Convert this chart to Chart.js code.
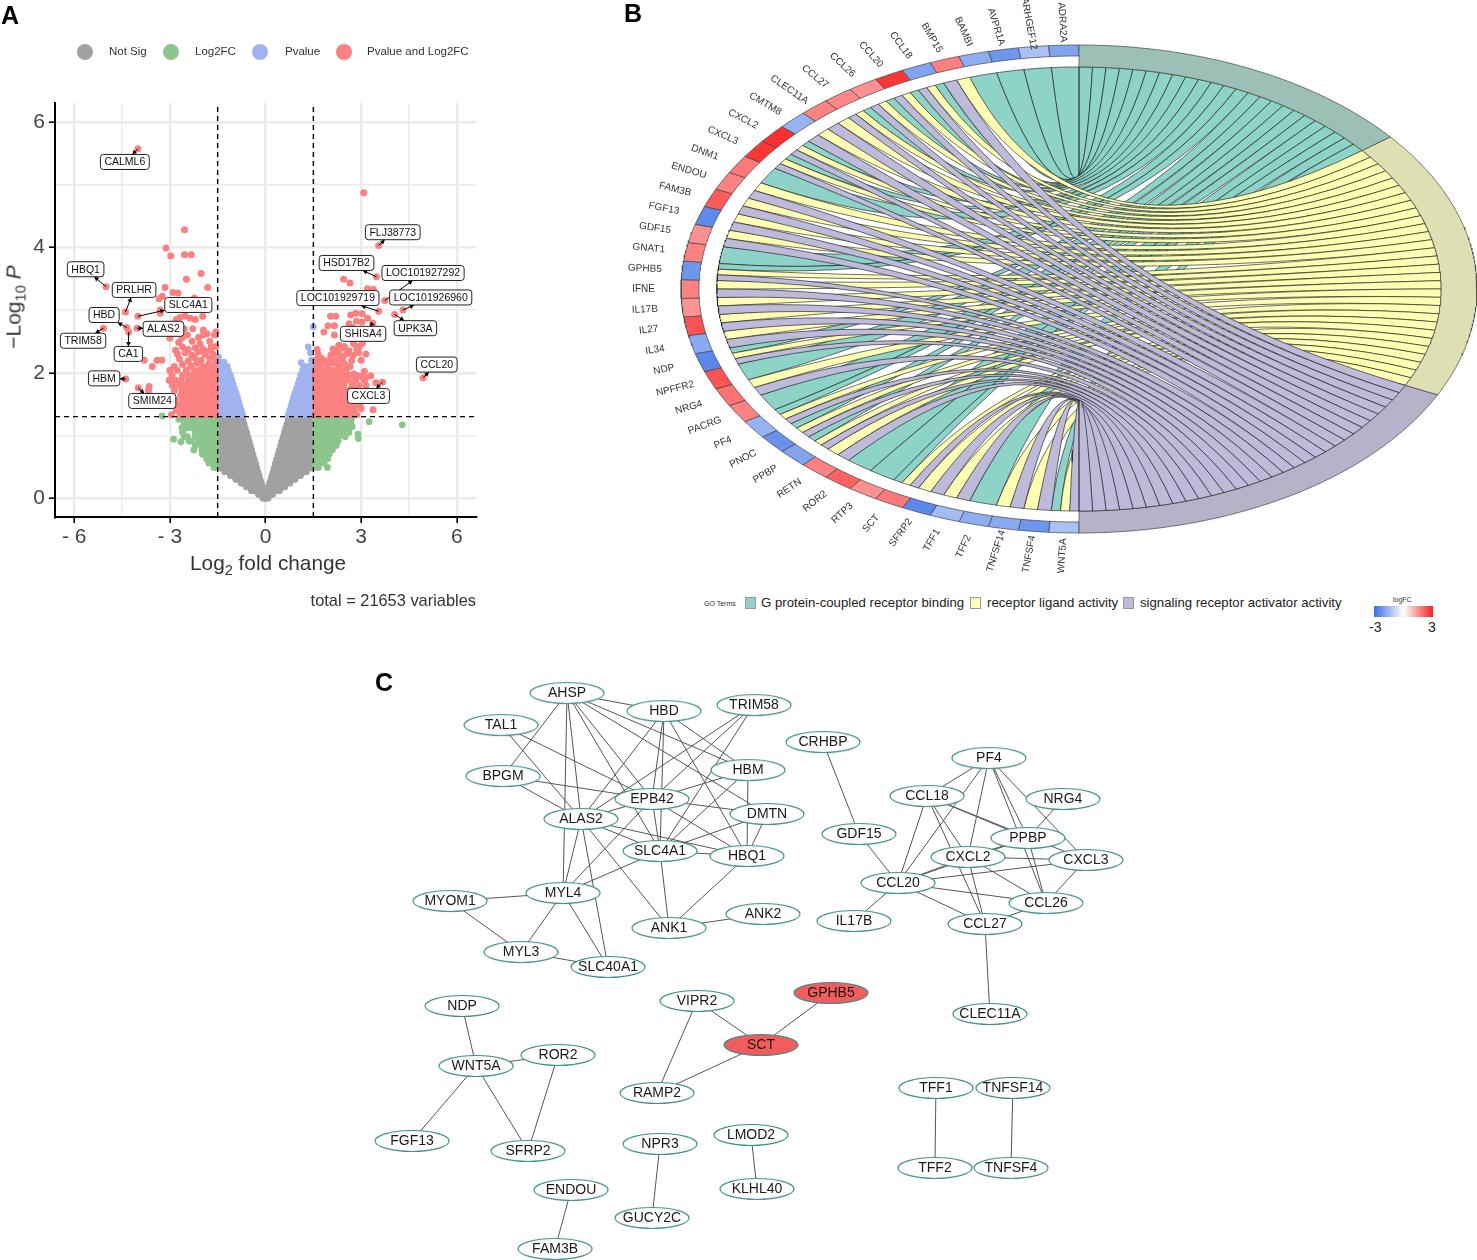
<!DOCTYPE html>
<html>
<head>
<meta charset="utf-8">
<script src="https://cdn.jsdelivr.net/npm/chart.js@4"></script>
<style>
  html, body { margin: 0; padding: 0; background: #fff; }
  body { position: relative; width: 1477px; height: 1260px; overflow: hidden; font-family: "Liberation Sans", Arial, sans-serif; color: #222; }
  canvas { position: absolute; }
  .t { position: absolute; white-space: nowrap; line-height: 1; }
  .panel { font-weight: bold; font-size: 25px; color: #000; }
  .dot { position: absolute; width: 16px; height: 16px; border-radius: 50%; }
  .key { position: absolute; width: 11px; height: 12px; border: 1px solid #999; box-sizing: border-box; }
  #ytitle sub, #xtitle sub { font-size: 70%; line-height: 0; }
</style>
</head>
<body>
<canvas id="volcano" width="490" height="620" style="left:0;top:0"></canvas>
<canvas id="chord" width="857" height="590" style="left:620px;top:0"></canvas>
<canvas id="network" width="770" height="590" style="left:360px;top:670px"></canvas>

<div class="t panel" style="left:1px;top:3px">A</div>
<div class="t panel" style="left:624px;top:1px">B</div>
<div class="t panel" style="left:375px;top:670px">C</div>

<div id="volcanoLegend"></div>
<div class="t" id="xtitle" style="left:190px;top:553px;font-size:20.8px;color:#333">Log<sub>2</sub> fold change</div>
<div class="t" id="ytitle" style="left:13px;top:307px;font-size:21px;color:#333;transform:translate(-50%,-50%) rotate(-90deg);transform-origin:center">&#8722;Log<sub>10</sub> <i>P</i></div>
<div class="t" style="right:1001px;top:592px;font-size:16.4px;color:#333">total = 21653 variables</div>

<div class="t" style="left:704px;top:600px;font-size:7px;color:#333">GO Terms</div>
<div id="chordLegend"></div>
<div class="t" style="left:1393px;top:596px;font-size:7px;color:#333">logFC</div>
<div style="position:absolute;left:1374px;top:606px;width:59px;height:11px;background:linear-gradient(to right,#3a70e6,#ffffff,#fa2020)"></div>
<div class="t" style="left:1369px;top:620px;font-size:14px">-3</div>
<div class="t" style="left:1428px;top:620px;font-size:14px">3</div>

<script>
// ---------- A: volcano ----------
const volcanoLegendNames = ["Not Sig", "Log2FC", "Pvalue", "Pvalue and Log2FC"];
const xTicks = [-6, -4.5, -3, -1.5, 0, 1.5, 3, 4.5, 6];
const xMajor = [-6, -3, 0, 3, 6];
const yTicks = [0, 1, 2, 3, 4, 5, 6];
const yMajor = [0, 2, 4, 6];
const pCut = 1.3;
const fcCut = 1.5;

// rows of [y, |x|], used for both arms of the V
const notSigRows = [
  [0.00, [0, 0.08]],
  [0.06, [0, 0.12, 0.22]],
  [0.12, [0.07, 0.2, 0.34, 0.44]],
  [0.18, [0.1, 0.24, 0.38, 0.5, 0.6]],
  [0.24, [0.13, 0.27, 0.41, 0.55, 0.68, 0.76]],
  [0.30, [0.17, 0.31, 0.45, 0.59, 0.73, 0.87, 0.93]],
  [0.36, [0.2, 0.34, 0.48, 0.62, 0.76, 0.9, 1.04, 1.1]],
  [0.42, [0.24, 0.38, 0.52, 0.66, 0.8, 0.94, 1.08, 1.2, 1.28]],
  [0.48, [0.27, 0.41, 0.55, 0.69, 0.83, 0.97, 1.11, 1.25, 1.41]],
  [0.55, [0.31, 0.45, 0.59, 0.73, 0.87, 1.01, 1.15, 1.29, 1.41]],
  [0.62, [0.35, 0.49, 0.63, 0.77, 0.91, 1.05, 1.19, 1.33, 1.41]],
  [0.69, [0.39, 0.53, 0.67, 0.81, 0.95, 1.09, 1.23, 1.37, 1.41]],
  [0.76, [0.43, 0.57, 0.71, 0.85, 0.99, 1.13, 1.27, 1.41]],
  [0.83, [0.47, 0.61, 0.75, 0.89, 1.03, 1.17, 1.31, 1.41]],
  [0.90, [0.51, 0.65, 0.79, 0.93, 1.07, 1.21, 1.35, 1.41]],
  [0.97, [0.55, 0.69, 0.83, 0.97, 1.11, 1.25, 1.39]],
  [1.04, [0.59, 0.73, 0.87, 1.01, 1.15, 1.29, 1.41]],
  [1.11, [0.63, 0.77, 0.91, 1.05, 1.19, 1.33, 1.41]],
  [1.18, [0.67, 0.81, 0.95, 1.09, 1.23, 1.37, 1.41]],
  [1.25, [0.71, 0.85, 0.99, 1.13, 1.27, 1.41]],
];

const pvalueRows = [
  [1.33, [0.72, 0.86, 1, 1.14, 1.28, 1.42]],
  [1.40, [0.76, 0.9, 1.04, 1.18, 1.32, 1.44]],
  [1.47, [0.8, 0.94, 1.08, 1.22, 1.36, 1.44]],
  [1.54, [0.84, 0.98, 1.12, 1.26, 1.4]],
  [1.61, [0.88, 1.02, 1.16, 1.3, 1.44]],
  [1.68, [0.92, 1.06, 1.2, 1.34, 1.44]],
  [1.75, [0.97, 1.1, 1.24, 1.38]],
  [1.82, [1.02, 1.15, 1.28, 1.42]],
  [1.89, [1.06, 1.2, 1.33, 1.44]],
  [1.96, [1.1, 1.24, 1.38]],
  [2.03, [1.16, 1.3, 1.44]],
  [2.10, [1.2, 1.34, 1.44]],
];
const pvalueExtra = [[-1.47, 2.25], [-1.44, 2.17], [-1.3, 2.17], [1.12, 2.16], [1.34, 2.41], [1.41, 2.32], [1.5, 2.73], [1.44, 2.2]];

const fcLeftRows = [
  [1.26, [-1.56, -1.7, -1.85, -2, -2.15, -2.3, -2.45, -2.6, -2.72]],
  [1.19, [-1.56, -1.7, -1.85, -2, -2.15, -2.3, -2.4, -2.55]],
  [1.12, [-1.56, -1.7, -1.85, -2, -2.15, -2.3, -2.45, -2.62]],
  [1.05, [-1.56, -1.7, -1.85, -2, -2.1, -2.2, -2.6]],
  [0.98, [-1.56, -1.7, -1.85, -2, -2.1, -2.2, -2.45, -2.55]],
  [0.91, [-1.56, -1.7, -1.85, -2, -2.1, -2.32, -2.4]],
  [0.84, [-1.56, -1.7, -1.85, -2, -2.2]],
  [0.77, [-1.56, -1.7, -1.85, -2, -2.25]],
  [0.70, [-1.56, -1.7, -1.85, -1.98]],
  [0.63, [-1.56, -1.7, -1.85]],
  [0.56, [-1.56, -1.68, -1.78]],
  [0.49, [-1.56, -1.62]],
];
const fcRightRows = [
  [1.26, [1.56, 1.7, 1.85, 2, 2.15, 2.3, 2.45, 2.6, 2.7]],
  [1.19, [1.56, 1.7, 1.85, 2, 2.15, 2.3, 2.45, 2.55, 2.68]],
  [1.12, [1.56, 1.7, 1.85, 2, 2.15, 2.3, 2.42, 2.56]],
  [1.05, [1.56, 1.7, 1.85, 2, 2.15, 2.3, 2.42, 2.62]],
  [0.98, [1.56, 1.7, 1.85, 2, 2.15, 2.3, 2.5]],
  [0.91, [1.56, 1.7, 1.85, 2, 2.15, 2.28]],
  [0.84, [1.56, 1.7, 1.85, 2, 2.12, 2.22]],
  [0.77, [1.56, 1.7, 1.85, 2, 2.1]],
  [0.70, [1.56, 1.7, 1.85, 2]],
  [0.63, [1.56, 1.7, 1.85, 1.95]],
  [0.56, [1.56, 1.7, 1.84]],
  [0.49, [1.56, 1.66, 1.94]],
];
const fcExtra = [[-2.88, 0.94], [-2.65, 0.9], [-3.24, 1.31], [3.25, 1.22], [4.29, 1.17], [2.91, 0.95], [2.9, 1.02], [2.72, 1.14]];

const bothLeftRows = [
  [1.33, [-1.56, -1.7, -1.85, -2, -2.15, -2.3, -2.48, -2.68, -2.95]],
  [1.40, [-1.58, -1.72, -1.87, -2.02, -2.17, -2.32, -2.47, -2.62, -2.8]],
  [1.48, [-1.56, -1.7, -1.85, -2, -2.15, -2.3, -2.45, -2.58, -2.72]],
  [1.56, [-1.58, -1.72, -1.87, -2.02, -2.17, -2.32, -2.46, -2.6, -2.82]],
  [1.64, [-1.56, -1.7, -1.85, -2, -2.15, -2.3, -2.42, -2.56, -2.66]],
  [1.72, [-1.58, -1.72, -1.87, -2.02, -2.17, -2.32, -2.46, -2.62, -2.85]],
  [1.80, [-1.56, -1.7, -1.85, -2, -2.15, -2.35, -2.5, -2.7, -2.92]],
  [1.88, [-1.58, -1.72, -1.87, -2.02, -2.14, -2.28, -2.42, -2.64, -2.82, -3.02]],
  [1.96, [-1.56, -1.7, -1.85, -2, -2.2, -2.4, -2.6, -2.93]],
  [2.04, [-1.58, -1.74, -1.9, -2.07, -2.24, -2.48, -2.77, -3.0]],
];
const bothLeftScatter = [
  [-4.0, 5.57], [-2.54, 4.28], [-3.12, 3.99], [-2.97, 3.86], [-2.54, 3.88], [-2.33, 3.88], [-2.02, 3.58], [-2.48, 3.49],
  [-1.81, 3.36], [-5.0, 3.37], [-3.15, 3.36], [-2.9, 3.28], [-2.74, 3.27], [-3.24, 3.22], [-3.34, 3.18], [-2.23, 3.19],
  [-4.39, 2.97], [-4.0, 2.9], [-4.35, 2.72], [-4.03, 2.71], [-5.08, 2.71], [-4.29, 2.65], [-4.38, 1.9], [-3.99, 1.76],
  [-1.6, 2.6], [-1.55, 2.65], [-1.75, 2.5], [-1.95, 2.68], [-1.83, 2.62], [-2.28, 2.7], [-2.55, 2.7], [-3.0, 2.55],
  [-2.52, 2.9], [-2.36, 2.87], [-2.2, 2.85], [-1.97, 2.9], [-2.8, 2.85], [-3.3, 3.0], [-3.3, 2.95], [-3.4, 2.2],
  [-3.25, 2.2], [-3.55, 2.1], [-3.8, 2.2], [-3.65, 1.78], [-3.67, 1.72], [-2.68, 2.88], [-1.55, 2.42], [-1.7, 2.42],
  [-2.05, 2.46], [-2.3, 2.5], [-2.62, 2.55], [-2.85, 2.62], [-1.95, 2.6], [-2.72, 2.48], [-3.1, 2.7],
  [-1.6, 2.12], [-1.78, 2.14], [-1.97, 2.1], [-2.16, 2.15], [-2.34, 2.11], [-2.6, 2.13], [-2.86, 2.1],
  [-1.57, 2.21], [-1.75, 2.23], [-2.02, 2.2], [-2.22, 2.24], [-2.42, 2.19], [-2.7, 2.22], [-1.65, 2.3], [-1.9, 2.29],
  [-2.11, 2.33], [-2.31, 2.28], [-2.52, 2.32], [-2.76, 2.3], [-1.72, 2.36], [-1.96, 2.38], [-2.2, 2.4], [-2.42, 2.37],
  [-2.6, 2.41], [-2.82, 2.36], [-2.45, 2.6], [-2.1, 2.56], [-1.86, 2.34],
];
const bothRightRows = [
  [1.33, [1.56, 1.7, 1.85, 2, 2.15, 2.3, 2.48, 2.66, 2.86]],
  [1.40, [1.58, 1.72, 1.87, 2.02, 2.17, 2.32, 2.47, 2.62, 2.78]],
  [1.48, [1.56, 1.7, 1.85, 2, 2.15, 2.3, 2.45, 2.62, 2.8, 2.95]],
  [1.56, [1.58, 1.72, 1.87, 2.02, 2.17, 2.32, 2.47, 2.62, 2.74, 2.85]],
  [1.64, [1.56, 1.7, 1.85, 2, 2.15, 2.3, 2.42, 2.55]],
  [1.72, [1.58, 1.72, 1.87, 2.02, 2.17, 2.32, 2.44, 2.6, 2.78]],
  [1.80, [1.56, 1.7, 1.85, 2, 2.15, 2.3, 2.45, 2.72, 2.92, 3.15]],
  [1.88, [1.58, 1.72, 1.87, 2.02, 2.17, 2.32, 2.47, 2.6, 2.82, 3.1]],
  [1.96, [1.56, 1.7, 1.85, 2, 2.15, 2.3, 2.5, 2.66, 2.85]],
  [2.04, [1.58, 1.74, 1.9, 2.07, 2.22, 2.37, 2.52]],
];
const bothRightScatter = [
  [3.08, 4.87], [3.55, 4.03], [3.48, 3.53], [2.45, 3.49], [2.65, 3.43], [3.2, 3.34], [3.38, 3.33], [3.74, 3.15],
  [4.31, 3.0], [3.55, 2.98], [4.05, 2.93], [3.36, 2.79], [4.94, 1.92], [3.67, 1.85], [2.04, 2.9], [2.2, 2.9],
  [2.67, 2.92], [2.83, 2.95], [3.03, 2.94], [3.2, 2.87], [3.03, 2.81], [2.85, 2.82], [1.96, 2.75], [2.16, 2.75],
  [1.83, 2.65], [2.16, 2.6], [2.3, 2.44], [2.47, 2.42], [2.94, 2.42], [3.15, 2.3], [3.04, 2.47], [3.3, 1.95],
  [3.46, 1.84], [2.98, 1.94], [2.77, 1.98], [3.0, 1.43], [3.37, 1.41], [2.72, 2.72], [2.62, 2.78], [3.0, 2.2],
  [3.1, 2.02], [3.15, 1.92],
  [1.6, 2.12], [1.76, 2.14], [1.95, 2.1], [2.12, 2.15], [2.3, 2.11], [2.48, 2.14], [2.65, 2.1],
  [1.58, 2.2], [1.75, 2.23], [1.92, 2.19], [2.08, 2.24], [2.25, 2.2], [2.42, 2.22], [2.7, 2.19],
  [1.65, 2.29], [2.05, 2.28], [2.2, 2.31], [2.36, 2.27], [2.55, 2.3], [2.75, 2.28], [2.92, 2.32],
  [1.62, 2.37], [2.12, 2.38], [2.3, 2.36], [2.46, 2.4], [2.62, 2.35], [2.86, 2.38], [2.76, 2.46],
];

// repelled gene labels: value of the point, then centre of its box
const labelNames = ["CALML6", "HBQ1", "PRLHR", "SLC4A1", "HBD", "ALAS2", "TRIM58", "CA1", "HBM", "SMIM24",
  "FLJ38773", "HSD17B2", "LOC101927292", "LOC101926960", "LOC101929719", "UPK3A", "SHISA4", "CCL20", "CXCL3"];
const labelPointX = [-4.0, -5.0, -4.39, -4.0, -4.35, -4.03, -5.08, -4.29, -4.38, -3.99, 3.55, 3.48, 3.74, 4.31, 3.55, 4.05, 3.36, 4.94, 3.67];
const labelPointY = [5.57, 3.37, 2.97, 2.9, 2.72, 2.71, 2.71, 2.65, 1.9, 1.76, 4.03, 3.53, 3.15, 3.0, 2.98, 2.93, 2.79, 1.92, 1.85];
const labelBoxX = [-4.41, -5.64, -4.12, -2.42, -5.06, -3.2, -5.72, -4.3, -5.06, -3.55, 3.99, 2.54, 4.94, 5.18, 2.27, 4.7, 3.06, 5.37, 3.23];
const labelBoxY = [5.36, 3.65, 3.32, 3.08, 2.92, 2.7, 2.51, 2.3, 1.91, 1.55, 4.24, 3.75, 3.59, 3.2, 3.19, 2.71, 2.62, 2.13, 1.63];

const volcanoColors = ["#a1a1a1", "#8cc68c", "#a0b3ef", "#fb8080"];

function fromRows(rows) {
  return rows.flatMap(([y, xs]) => xs.map((x) => ({ x, y })));
}
function fromPairs(pairs) {
  return pairs.map(([x, y]) => ({ x, y }));
}
function mirrored(rows) {
  return fromRows(rows).flatMap((p) => [p, { x: -p.x, y: p.y }]);
}

function pointSet(label, data, color, order, radius) {
  return { label, data, order, backgroundColor: color, borderWidth: 0, pointRadius: radius, pointHoverRadius: radius };
}
function cutLine(data) {
  return { data, order: 0, showLine: true, borderColor: "#000", borderWidth: 1.4, borderDash: [5, 4], pointRadius: 0, clip: false };
}

const geneLabelPlugin = {
  id: "geneLabels",
  afterDatasetsDraw(chart) {
    const { ctx, scales: { x, y } } = chart;
    ctx.save();
    ctx.font = '10.5px "Liberation Sans", Arial, sans-serif';
    ctx.textAlign = "center";
    ctx.textBaseline = "middle";
    labelNames.forEach((name, i) => {
      const px = x.getPixelForValue(labelPointX[i]);
      const py = y.getPixelForValue(labelPointY[i]);
      const bx = x.getPixelForValue(labelBoxX[i]);
      const by = y.getPixelForValue(labelBoxY[i]);
      const hw = ctx.measureText(name).width / 2 + 4;
      const hh = 7.5;
      // arrow stops at the edge of the box
      const dx = bx - px, dy = by - py;
      const f = 1 - Math.min(Math.abs(dx) > 0 ? hw / Math.abs(dx) : 1, Math.abs(dy) > 0 ? hh / Math.abs(dy) : 1);
      const ex = px + dx * Math.max(f, 0), ey = py + dy * Math.max(f, 0);
      const a = Math.atan2(ey - py, ex - px);
      ctx.strokeStyle = "#000";
      ctx.fillStyle = "#000";
      ctx.lineWidth = 1;
      ctx.beginPath();
      ctx.moveTo(px, py);
      ctx.lineTo(ex, ey);
      ctx.stroke();
      ctx.beginPath();
      ctx.moveTo(ex, ey);
      ctx.lineTo(ex - 5 * Math.cos(a - 0.5), ey - 5 * Math.sin(a - 0.5));
      ctx.lineTo(ex - 5 * Math.cos(a + 0.5), ey - 5 * Math.sin(a + 0.5));
      ctx.closePath();
      ctx.fill();
      ctx.fillStyle = "#fff";
      ctx.strokeStyle = "#222";
      ctx.beginPath();
      ctx.roundRect(bx - hw, by - hh, hw * 2, hh * 2, 3);
      ctx.fill();
      ctx.stroke();
      ctx.fillStyle = "#111";
      ctx.fillText(name, bx, by + 0.5);
    });
    ctx.restore();
  },
};

function isMajor(list, ctx) {
  return ctx.tick && list.includes(ctx.tick.value);
}

new Chart(document.getElementById("volcano"), {
  type: "scatter",
  data: {
    datasets: [
      cutLine([{ x: -fcCut, y: -0.3 }, { x: -fcCut, y: 6.3 }]),
      cutLine([{ x: fcCut, y: -0.3 }, { x: fcCut, y: 6.3 }]),
      cutLine([{ x: -6.6, y: pCut }, { x: 6.6, y: pCut }]),
      pointSet("Pvalue and Log2FC", [...fromRows(bothLeftRows), ...fromPairs(bothLeftScatter), ...fromRows(bothRightRows), ...fromPairs(bothRightScatter)], volcanoColors[3], 1, 3.5),
      pointSet("Pvalue", [...mirrored(pvalueRows), ...fromPairs(pvalueExtra)], volcanoColors[2], 2, 3.4),
      pointSet("Log2FC", [...fromRows(fcLeftRows), ...fromRows(fcRightRows), ...fromPairs(fcExtra)], volcanoColors[1], 3, 3.4),
      pointSet("Not Sig", mirrored(notSigRows), volcanoColors[0], 4, 3.4),
    ],
  },
  options: {
    responsive: false,
    animation: false,
    events: [],
    layout: { padding: { top: 103, right: 14, bottom: 73, left: 0 } },
    plugins: { legend: { display: false }, tooltip: { enabled: false } },
    scales: {
      x: {
        type: "linear",
        min: -6.6,
        max: 6.6,
        afterBuildTicks: (s) => { s.ticks = xTicks.map((value) => ({ value })); },
        afterFit: (s) => { s.height = 30; },
        border: { color: "#000", width: 2 },
        grid: {
          color: "#ebebeb",
          lineWidth: (c) => (isMajor(xMajor, c) ? 2.4 : 1.4),
          tickColor: (c) => (isMajor(xMajor, c) ? "#000" : "rgba(0,0,0,0)"),
          tickWidth: 1.6,
          tickLength: 6,
        },
        ticks: {
          autoSkip: false,
          maxRotation: 0,
          color: "#444",
          padding: 2,
          font: { family: '"Liberation Sans", Arial, sans-serif', size: 21 },
          callback: (v) => (xMajor.includes(v) ? (v < 0 ? "- " + Math.abs(v) : String(v)) : ""),
        },
      },
      y: {
        type: "linear",
        min: -0.3,
        max: 6.3,
        afterBuildTicks: (s) => { s.ticks = yTicks.map((value) => ({ value })); },
        afterFit: (s) => { s.width = 55; },
        border: { color: "#000", width: 2 },
        grid: {
          color: "#ebebeb",
          lineWidth: (c) => (isMajor(yMajor, c) ? 2.4 : 1.4),
          tickColor: (c) => (isMajor(yMajor, c) ? "#000" : "rgba(0,0,0,0)"),
          tickWidth: 1.6,
          tickLength: 6,
        },
        ticks: {
          autoSkip: false,
          color: "#444",
          padding: 4,
          font: { family: '"Liberation Sans", Arial, sans-serif', size: 21 },
          callback: (v) => (yMajor.includes(v) ? String(v) : ""),
        },
      },
    },
  },
  plugins: [geneLabelPlugin],
});

const legendDotX = [77, 163, 252, 336];
const legendTextX = [109, 195, 285, 367];
document.getElementById("volcanoLegend").innerHTML = volcanoLegendNames.map((name, i) =>
  `<div class="dot" style="left:${legendDotX[i]}px;top:44px;background:${volcanoColors[i]}"></div>` +
  `<div class="t" style="left:${legendTextX[i]}px;top:46px;font-size:11.5px;color:#333">${name}</div>`).join("");

// hover sizes count towards the plot inset even with no visible point
const noPointInset = { point: { hoverRadius: 0, hoverBorderWidth: 0, borderWidth: 0 } };

// ---------- B: chord ----------
const geneNames = ["ADRA2A", "ARHGEF12", "AVPR1A", "BAMBI", "BMP15", "CCL18", "CCL20", "CCL26", "CCL27", "CLEC11A", "CMTM8",
  "CXCL2", "CXCL3", "DNM1", "ENDOU", "FAM3B", "FGF13", "GDF15", "GNAT1", "GPHB5", "IFNE", "IL17B", "IL27", "IL34", "NDP",
  "NPFFR2", "NRG4", "PACRG", "PF4", "PNOC", "PPBP", "RETN", "ROR2", "RTP3", "SCT", "SFRP2", "TFF1", "TFF2", "TNFSF14", "TNFSF4", "WNT5A"];
const geneLogFC = [-1.9, -1.3, -2.2, -1.7, 1.7, -1.9, 2.7, 1.5, 1.6, 1.7, -1.6,
  2.8, 2.7, 1.8, 1.7, 2.2, -2.45, 1.5, 1.7, -2.2, 1.7, 1.45, 2.3, -1.8, -2.5,
  2.3, 1.9, 1.7, -1.6, -2.3, -1.9, 1.7, 2.1, 1.5, 1.8, -2.5, -1.4, -1.7, -1.8, -2.2, -1.3];
// T = G protein-coupled receptor binding, Y = receptor ligand activity, P = signaling receptor activator activity
const geneTerms = ["T", "T", "T", "T", "YP", "TYP", "TYP", "TYP", "TYP", "YP", "YP",
  "TYP", "TYP", "T", "YP", "YP", "YP", "YP", "T", "TYP", "YP", "YP", "YP", "YP", "TYP",
  "T", "YP", "T", "TYP", "TYP", "TYP", "YP", "T", "T", "TYP", "YP", "YP", "T", "YP", "YP", "TYP"];
const termKeys = ["T", "Y", "P"];
const termNames = ["G protein-coupled receptor binding", "receptor ligand activity", "signaling receptor activator activity"];
const termColors = ["#8dd3c7", "#ffffb3", "#bebada"];
const termRingColors = ["#9cc0b6", "#dfdfb4", "#b4b3c9"];

const RIBBON_R = 0.91;
const GENE_INNER_R = 0.955;
const LABEL_R = 1.094;

function polar(deg, r) {
  const a = (deg * Math.PI) / 180;
  return { x: r * Math.sin(a), y: r * Math.cos(a) };
}
function arc(from, to, r) {
  const steps = Math.max(2, Math.ceil(Math.abs(to - from) / 0.5));
  const pts = [];
  for (let i = 0; i <= steps; i++) pts.push(polar(from + ((to - from) * i) / steps, r));
  return pts;
}
// quadratic curve pulled through the centre of the circle
function curve(from, to) {
  const a = polar(from, RIBBON_R), b = polar(to, RIBBON_R);
  const pts = [];
  for (let i = 1; i < 24; i++) {
    const t = i / 24;
    pts.push({ x: (1 - t) * (1 - t) * a.x + t * t * b.x, y: (1 - t) * (1 - t) * a.y + t * t * b.y });
  }
  return pts;
}
function shape(data, fill, order, stroke, width) {
  return { data, order, showLine: true, fill: "shape", backgroundColor: fill, borderColor: stroke, borderWidth: width, pointRadius: 0, tension: 0, clip: false };
}
function fcColor(v) {
  const end = v < 0 ? [58, 112, 230] : [250, 32, 32];
  const t = Math.abs(v) / 3;
  return `rgb(${end.map((c) => Math.round(255 + (c - 255) * t)).join(",")})`;
}

const geneStep = 180 / geneNames.length;
const termCounts = termKeys.map((k) => geneTerms.filter((s) => s.includes(k)).length);
const termStep = 180 / termCounts.reduce((a, b) => a + b, 0);
const termStart = [0, termCounts[0] * termStep, (termCounts[0] + termCounts[1]) * termStep];
const termUsed = [0, 0, 0];

const chordSets = [];
geneNames.forEach((name, g) => {
  const parts = geneTerms[g].split("");
  parts.forEach((key, p) => {
    const k = termKeys.indexOf(key);
    const g1 = -(g + p / parts.length) * geneStep;
    const g2 = -(g + (p + 1) / parts.length) * geneStep;
    const t1 = termStart[k] + termUsed[k] * termStep;
    const t2 = t1 + termStep;
    termUsed[k]++;
    const path = [...arc(g1, g2, RIBBON_R), ...curve(g2, t2), ...arc(t2, t1, RIBBON_R), ...curve(t1, g1), polar(g1, RIBBON_R)];
    // lower order is painted later: activator ribbons lie on top
    chordSets.push(shape(path, termColors[k], 10 + (2 - k) * 100 - g, "#111", 0.6));
  });
  const from = -g * geneStep, to = -(g + 1) * geneStep;
  chordSets.push(shape([...arc(from, to, 1), ...arc(to, from, GENE_INNER_R), polar(from, 1)], fcColor(geneLogFC[g]), 1, "#444", 0.7));
});
termKeys.forEach((key, k) => {
  const from = termStart[k], to = from + termCounts[k] * termStep;
  chordSets.push(shape([...arc(from, to, 1), ...arc(to, from, RIBBON_R), polar(from, 1)], termRingColors[k], 0, "#444", 0.7));
});

const chordLabelPlugin = {
  id: "chordLabels",
  afterDatasetsDraw(chart) {
    const { ctx, scales: { x, y } } = chart;
    const ox = x.getPixelForValue(0), oy = y.getPixelForValue(0);
    ctx.save();
    ctx.font = '10px "Liberation Sans", Arial, sans-serif';
    ctx.fillStyle = "#333";
    ctx.textAlign = "center";
    ctx.textBaseline = "middle";
    geneNames.forEach((name, g) => {
      const p = polar(-(g + 0.5) * geneStep, LABEL_R);
      const px = x.getPixelForValue(p.x), py = y.getPixelForValue(p.y);
      ctx.save();
      ctx.translate(px, py);
      ctx.rotate(Math.atan2(oy - py, ox - px));
      ctx.fillText(name, 0, 0);
      ctx.restore();
    });
    ctx.restore();
  },
};

new Chart(document.getElementById("chord"), {
  type: "scatter",
  data: { datasets: chordSets },
  options: {
    responsive: false,
    animation: false,
    events: [],
    layout: { padding: 0 },
    elements: noPointInset,
    plugins: { legend: { display: false }, tooltip: { enabled: false } },
    scales: {
      x: { type: "linear", display: false, min: -1.1533, max: 1.0 },
      y: { type: "linear", display: false, min: -1.2336, max: 1.1844 },
    },
  },
  plugins: [chordLabelPlugin],
});

const keyX = [745, 970, 1123];
const keyTextX = [761, 987, 1140];
document.getElementById("chordLegend").innerHTML = termNames.map((name, i) =>
  `<div class="key" style="left:${keyX[i]}px;top:597px;background:${termColors[i]}"></div>` +
  `<div class="t" style="left:${keyTextX[i]}px;top:596px;font-size:13.2px">${name}</div>`).join("");

// ---------- C: network ----------
const nodeNames = ["AHSP", "TAL1", "HBD", "TRIM58", "BPGM", "HBM", "EPB42", "DMTN", "ALAS2", "SLC4A1", "HBQ1", "MYL4", "MYOM1", "ANK1", "ANK2", "MYL3", "SLC40A1",
  "CRHBP", "GDF15", "PF4", "CCL18", "NRG4", "PPBP", "CXCL2", "CXCL3", "CCL20", "CCL26", "IL17B", "CCL27", "CLEC11A",
  "NDP", "ROR2", "WNT5A", "FGF13", "SFRP2", "VIPR2", "GPHB5", "SCT", "RAMP2", "TFF1", "TNFSF14", "TFF2", "TNFSF4", "NPR3", "LMOD2", "KLHL40", "GUCY2C", "ENDOU", "FAM3B"];
const nodeX = [567, 501, 664, 754, 503, 748, 652, 767, 581, 660, 747, 563, 450, 669, 763, 521, 608,
  823, 859, 989, 927, 1063, 1028, 968, 1086, 898, 1046, 854, 985, 990,
  462, 558, 476, 412, 528, 697, 831, 761, 657, 936, 1013, 935, 1011, 660, 751, 757, 652, 571, 555];
const nodeY = [693, 725, 711, 705, 776, 770, 799, 814, 819, 851, 856, 893, 901, 928, 914, 952, 967,
  742, 834, 758, 796, 799, 838, 857, 860, 883, 903, 921, 924, 1014,
  1006, 1055, 1066, 1141, 1151, 1001, 993, 1045, 1093, 1088, 1088, 1168, 1168, 1144, 1135, 1189, 1218, 1190, 1249];
const highlighted = ["GPHB5", "SCT"];
const edges = [
  ["AHSP", "HBD"], ["AHSP", "BPGM"], ["AHSP", "ALAS2"], ["AHSP", "MYL4"], ["AHSP", "SLC4A1"], ["AHSP", "EPB42"], ["AHSP", "HBM"], ["AHSP", "DMTN"],
  ["TAL1", "ALAS2"], ["TAL1", "EPB42"], ["BPGM", "ALAS2"], ["BPGM", "EPB42"],
  ["HBD", "ALAS2"], ["HBD", "EPB42"], ["HBD", "SLC4A1"], ["HBD", "HBM"], ["HBD", "HBQ1"],
  ["TRIM58", "ALAS2"], ["TRIM58", "EPB42"], ["TRIM58", "SLC4A1"],
  ["HBM", "EPB42"], ["HBM", "SLC4A1"], ["HBM", "HBQ1"],
  ["EPB42", "ALAS2"], ["EPB42", "DMTN"], ["EPB42", "SLC4A1"], ["EPB42", "HBQ1"], ["EPB42", "MYL4"],
  ["DMTN", "SLC4A1"], ["DMTN", "HBQ1"],
  ["ALAS2", "SLC4A1"], ["ALAS2", "HBQ1"], ["ALAS2", "MYL4"], ["ALAS2", "SLC40A1"], ["ALAS2", "ANK1"],
  ["SLC4A1", "HBQ1"], ["SLC4A1", "MYL4"], ["SLC4A1", "ANK1"], ["HBQ1", "ANK1"], ["ANK1", "ANK2"],
  ["MYL4", "MYOM1"], ["MYL4", "MYL3"], ["MYL4", "SLC40A1"], ["MYOM1", "MYL3"], ["MYL3", "SLC40A1"],
  ["CRHBP", "GDF15"], ["GDF15", "CCL20"],
  ["PF4", "CCL18"], ["PF4", "CCL20"], ["PF4", "CXCL2"], ["PF4", "PPBP"], ["PF4", "CCL26"], ["PF4", "CXCL3"],
  ["CCL18", "CCL20"], ["CCL18", "CXCL2"], ["CCL18", "CCL27"], ["CCL18", "PPBP"], ["CCL18", "CXCL3"],
  ["NRG4", "PPBP"], ["PPBP", "CXCL2"], ["PPBP", "CCL20"], ["PPBP", "CCL26"],
  ["CXCL2", "CXCL3"], ["CXCL2", "CCL20"], ["CXCL2", "CCL26"], ["CXCL2", "CCL27"],
  ["CXCL3", "CCL20"], ["CXCL3", "CCL26"], ["CCL20", "IL17B"], ["CCL20", "CCL26"], ["CCL20", "CCL27"], ["CCL26", "CCL27"], ["CCL27", "CLEC11A"],
  ["NDP", "WNT5A"], ["WNT5A", "ROR2"], ["WNT5A", "FGF13"], ["WNT5A", "SFRP2"], ["ROR2", "SFRP2"],
  ["VIPR2", "RAMP2"], ["VIPR2", "SCT"], ["SCT", "RAMP2"], ["SCT", "GPHB5"],
  ["TFF1", "TFF2"], ["TNFSF14", "TNFSF4"], ["NPR3", "GUCY2C"], ["LMOD2", "KLHL40"], ["ENDOU", "FAM3B"],
];

function ellipseSprite(fill) {
  const c = document.createElement("canvas");
  c.width = 78;
  c.height = 24;
  const g = c.getContext("2d");
  g.beginPath();
  g.ellipse(39, 12, 37, 10.5, 0, 0, Math.PI * 2);
  g.fillStyle = fill;
  g.fill();
  g.strokeStyle = "#3d8f8a";
  g.lineWidth = 1.2;
  g.stroke();
  return c;
}
const plainNode = ellipseSprite("#fff");
const hotNode = ellipseSprite("#f25c5c");

function nodePoint(name) {
  const i = nodeNames.indexOf(name);
  return { x: nodeX[i], y: nodeY[i] };
}

const nodeLabelPlugin = {
  id: "nodeLabels",
  afterDatasetsDraw(chart) {
    const { ctx, scales: { x, y } } = chart;
    ctx.save();
    ctx.font = '14px "Liberation Sans", Arial, sans-serif';
    ctx.fillStyle = "#1a1a1a";
    ctx.textAlign = "center";
    ctx.textBaseline = "middle";
    nodeNames.forEach((name, i) => {
      ctx.fillText(name, x.getPixelForValue(nodeX[i]), y.getPixelForValue(nodeY[i]) + 0.5);
    });
    ctx.restore();
  },
};

new Chart(document.getElementById("network"), {
  type: "scatter",
  data: {
    datasets: [
      {
        data: nodeNames.map(nodePoint),
        order: 0,
        pointStyle: nodeNames.map((n) => (highlighted.includes(n) ? hotNode : plainNode)),
        // the sprite sets the size; a tiny radius keeps the plot area from being inset
        pointRadius: 0.1,
        clip: false,
      },
      ...edges.map(([a, b]) => ({
        data: [nodePoint(a), nodePoint(b)],
        order: 1,
        showLine: true,
        borderColor: "#555",
        borderWidth: 1,
        pointRadius: 0,
        clip: false,
      })),
    ],
  },
  options: {
    responsive: false,
    animation: false,
    events: [],
    layout: { padding: 0 },
    elements: noPointInset,
    plugins: { legend: { display: false }, tooltip: { enabled: false } },
    scales: {
      x: { type: "linear", display: false, min: 360, max: 1130 },
      y: { type: "linear", display: false, reverse: true, min: 670, max: 1260 },
    },
  },
  plugins: [nodeLabelPlugin],
});
</script>
</body>
</html>
